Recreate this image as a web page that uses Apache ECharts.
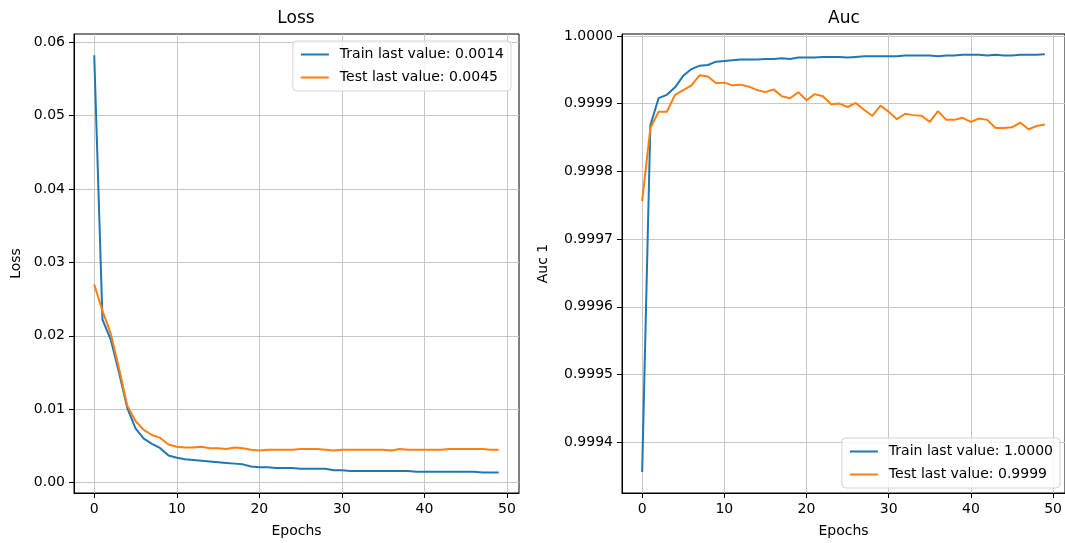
<!DOCTYPE html>
<html>
<head>
<meta charset="utf-8">
<script src="https://cdn.jsdelivr.net/npm/echarts@6/dist/echarts.min.js"></script>
<style>
html,body{margin:0;padding:0;background:#fff;}
#chart{width:1065px;height:543px;}
</style>
</head>
<body>
<div id="chart"></div>
<script>
const epochs = [0,1,2,3,4,5,6,7,8,9,10,11,12,13,14,15,16,17,18,19,20,21,22,23,24,25,26,27,28,29,30,31,32,33,34,35,36,37,38,39,40,41,42,43,44,45,46,47,48,49];

const trainLoss = [0.0582,0.0222,0.0195,0.0150,0.0102,0.0074,0.0060,0.0053,0.0047,0.0037,
  0.0034,0.0032,0.0031,0.0030,0.0029,0.0028,0.0027,0.0026,0.0025,0.0022,
  0.0021,0.0021,0.0020,0.0020,0.0020,0.0019,0.0019,0.0019,0.0019,0.0017,
  0.0017,0.0016,0.0016,0.0016,0.0016,0.0016,0.0016,0.0016,0.0016,0.0015,
  0.0015,0.0015,0.0015,0.0015,0.0015,0.0015,0.0015,0.0014,0.0014,0.0014];

const testLoss = [0.0270,0.0234,0.0203,0.0156,0.0105,0.0084,0.0072,0.0065,0.0061,0.0052,
  0.0049,0.0048,0.0048,0.0049,0.0047,0.0047,0.0046,0.0048,0.0047,0.0045,
  0.0044,0.0045,0.0045,0.0045,0.0045,0.0046,0.0046,0.0046,0.0045,0.0044,
  0.0045,0.0045,0.0045,0.0045,0.0045,0.0045,0.0044,0.0046,0.0045,0.0045,
  0.0045,0.0045,0.0045,0.0046,0.0046,0.0046,0.0046,0.0046,0.0045,0.0045];

const trainAuc = [0.999356,0.999868,0.999908,0.999913,0.999924,0.999941,0.999951,0.999956,0.999957,0.999962,
  0.999963,0.999964,0.999965,0.999965,0.999965,0.999966,0.999966,0.999967,0.999966,0.999968,
  0.999968,0.999968,0.999969,0.999969,0.999969,0.999968,0.999969,0.999970,0.999970,0.999970,
  0.999970,0.999970,0.999971,0.999971,0.999971,0.999971,0.999970,0.999971,0.999971,0.999972,
  0.999972,0.999972,0.999971,0.999972,0.999971,0.999971,0.999972,0.999972,0.999972,0.999973];

const testAuc = [0.999756,0.999864,0.999888,0.999888,0.999913,0.999920,0.999927,0.999942,0.999940,0.999930,
  0.999931,0.999927,0.999928,0.999925,0.999920,0.999917,0.999921,0.999911,0.999908,0.999917,
  0.999905,0.999914,0.999911,0.999899,0.999900,0.999895,0.999901,0.999891,0.999882,0.999897,
  0.999888,0.999877,0.999885,0.999883,0.999882,0.999873,0.999889,0.999876,0.999876,0.999879,
  0.999873,0.999878,0.999876,0.999864,0.999864,0.999865,0.999872,0.999862,0.999867,0.999869];

const xTicks = [0,10,20,30,40,50];
const lossTicks = [0,0.01,0.02,0.03,0.04,0.05,0.06];
const aucTicks = [0.9994,0.9995,0.9996,0.9997,0.9998,0.9999,1.0000];

const names = {
  trainLoss: 'Train last value: 0.0014',
  testLoss: 'Test last value: 0.0045',
  trainAuc: 'Train last value: 1.0000',
  testAuc: 'Test last value: 0.9999'
};

const BLUE = '#1f77b4', ORANGE = '#ff7f0e';
const FONT = 'DejaVu Sans';
const FS = 14;

function pairs(ys){ return epochs.map((x,i)=>[x, ys[i]]); }

function xAxisDef(idx){
  return {
    type:'value', gridIndex: idx, min:-2.45, max:51.45,
    name:'Epochs', nameLocation:'middle', nameGap:31,
    nameTextStyle:{fontFamily:FONT,fontSize:FS,color:'#000'},
    axisLine:{show:true,onZero:false,lineStyle:{color:'#000',width:1}},
    axisTick:{show:true,inside:false,length:5,customValues:xTicks,lineStyle:{color:'#000',width:1}},
    axisLabel:{customValues:xTicks,margin:9,fontFamily:FONT,fontSize:FS,color:'#000'},
    splitLine:{show:true,lineStyle:{color:'#c6c6c6',width:1}}
  };
}
function yAxisDef(idx,min,max,ticks,dec,name,gap){
  return {
    type:'value', gridIndex: idx, min:min, max:max,
    name:name, nameLocation:'middle', nameGap:gap,
    nameTextStyle:{fontFamily:FONT,fontSize:FS,color:'#000'},
    axisLine:{show:true,onZero:false,lineStyle:{color:'#000',width:1}},
    axisTick:{show:true,inside:false,length:5,customValues:ticks,lineStyle:{color:'#000',width:1}},
    axisLabel:{customValues:ticks,margin:9,fontFamily:FONT,fontSize:FS,color:'#000',
      formatter:v=>Number(v).toFixed(dec)},
    splitLine:{show:true,lineStyle:{color:'#c6c6c6',width:1}}
  };
}
function legendDef(data,pos){
  return Object.assign({
    orient:'vertical', data:data, icon:'rect', itemWidth:28, itemHeight:2,
    itemGap:8, padding:[6,7,6,8],
    backgroundColor:'rgba(255,255,255,0.8)', borderColor:'#d4d4d4', borderWidth:1, borderRadius:4,
    textStyle:{fontFamily:FONT,fontSize:FS,color:'#000',lineHeight:15,padding:[0,0,0,6]},
    itemStyle:{borderWidth:0}
  },pos);
}
function lineSeries(name,ys,color,idx){
  return {type:'line',name:name,xAxisIndex:idx,yAxisIndex:idx,data:pairs(ys),
    symbol:'none',showSymbol:false,smooth:false,animation:false,
    lineStyle:{color:color,width:2},itemStyle:{color:color}};
}

const chart = echarts.init(document.getElementById('chart'),null,{renderer:'canvas'});
chart.setOption({
  animation:false,
  backgroundColor:'#fff',
  title:[
    {text:'Loss',left:296,top:10,textAlign:'center',padding:0,textStyle:{fontFamily:FONT,fontSize:17,fontWeight:'normal',color:'#000'}},
    {text:'Auc',left:844,top:10,textAlign:'center',padding:0,textStyle:{fontFamily:FONT,fontSize:17,fontWeight:'normal',color:'#000'}}
  ],
  grid:[
    {left:74,top:34,width:445,height:461,show:true,borderColor:'#000',borderWidth:1,backgroundColor:'transparent'},
    {left:622,top:34,width:445,height:461,show:true,borderColor:'#000',borderWidth:1,backgroundColor:'transparent'}
  ],
  xAxis:[xAxisDef(0),xAxisDef(1)],
  yAxis:[
    yAxisDef(0,-0.0014,0.0611,lossTicks,2,'Loss',51),
    yAxisDef(1,0.999325,1.0000028,aucTicks,4,'Auc 1',72)
  ],
  legend:[
    legendDef([names.trainLoss,names.testLoss],{right:554,top:41}),
    legendDef([names.trainAuc,names.testAuc],{right:5,bottom:55})
  ],
  series:[
    lineSeries(names.trainLoss,trainLoss,BLUE,0),
    lineSeries(names.testLoss,testLoss,ORANGE,0),
    lineSeries(names.trainAuc,trainAuc,BLUE,1),
    lineSeries(names.testAuc,testAuc,ORANGE,1)
  ]
});
</script>
</body>
</html>
